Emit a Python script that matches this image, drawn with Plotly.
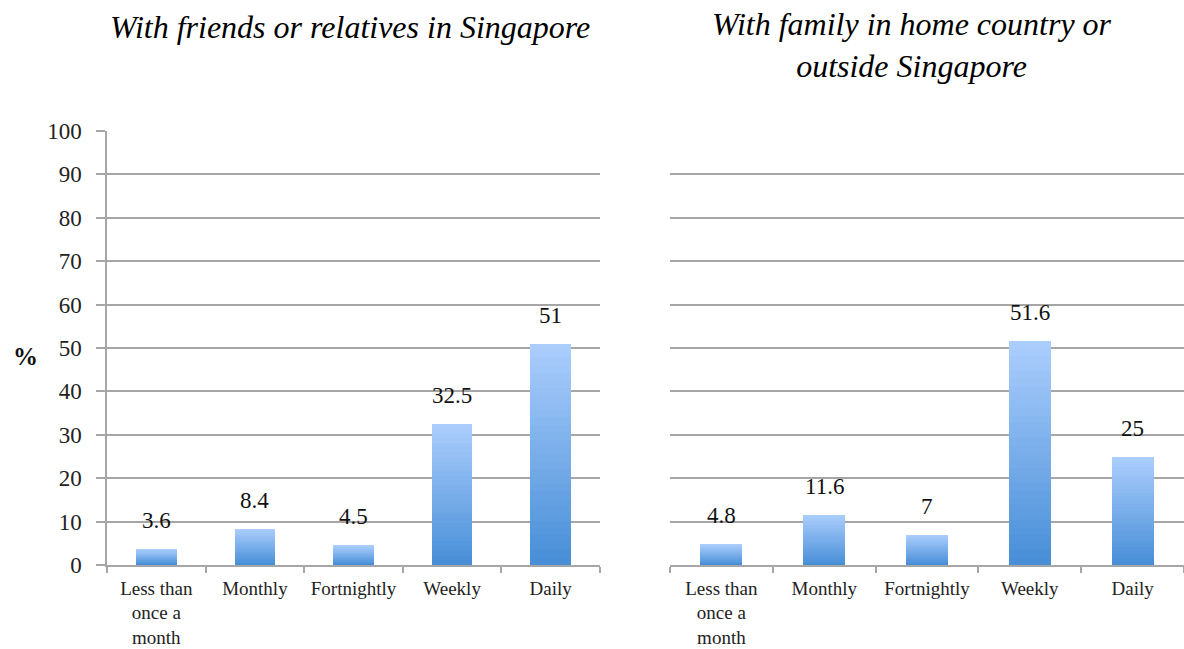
import plotly.graph_objects as go

categories = ["Less than<br>once a<br>month", "Monthly", "Fortnightly", "Weekly", "Daily"]
friends_sg = [3.6, 8.4, 4.5, 32.5, 51]
family_home = [4.8, 11.6, 7, 51.6, 25]
value_labels_left = ["3.6", "8.4", "4.5", "32.5", "51"]
value_labels_right = ["4.8", "11.6", "7", "51.6", "25"]
y_ticks = [0, 10, 20, 30, 40, 50, 60, 70, 80, 90, 100]
title_left = "With friends or relatives in Singapore"
title_right = "With family in home country or<br>outside Singapore"

W, H = 1184, 649
FONT = "Liberation Serif, Times New Roman, serif"
TOP = (170, 205, 252)
BOT = (72, 143, 216)
N = 30

def px_x(p):
    return min(1.0, p / W)

def px_y(p):
    return 1 - p / H

fig = go.Figure()

def add_grad(values, xa, ya):
    for k in range(N):
        frac = 1 - k / N
        t = k / (N - 1)
        c = tuple(int(round(TOP[i] + (BOT[i] - TOP[i]) * t)) for i in range(3))
        fig.add_trace(go.Bar(
            x=categories, y=[v * frac for v in values],
            marker=dict(color="rgb(%d,%d,%d)" % c, line=dict(width=0)),
            width=0.41, xaxis=xa, yaxis=ya, showlegend=False, hoverinfo="skip",
        ))

add_grad(friends_sg, "x", "y")
add_grad(family_home, "x2", "y2")

ydom = [px_y(565), px_y(131)]
grid = "#A6A6A6"
xcommon = dict(
    type="category", showline=True, linecolor=grid, linewidth=1.5,
    ticks="outside", tickson="boundaries", ticklen=6, tickcolor=grid, tickwidth=1.5,
    tickfont=dict(family=FONT, size=19, color="#222222"), showgrid=False,
    tickangle=0, automargin=False, ticklabelstandoff=5,
)
fig.update_layout(
    template="none",
    width=W, height=H, margin=dict(l=0, r=0, t=0, b=0, autoexpand=False),
    paper_bgcolor="white", plot_bgcolor="white", barmode="overlay", bargap=0,
    xaxis=dict(domain=[px_x(107), px_x(600)], anchor="y", **xcommon),
    xaxis2=dict(domain=[px_x(670), px_x(1184)], anchor="y2", **xcommon),
    yaxis=dict(domain=ydom, range=[0, 100], tickvals=y_ticks, showgrid=True,
               gridcolor=grid, gridwidth=1.5, showline=True, linecolor=grid, linewidth=1.5,
               ticks="outside", ticklen=9, tickcolor=grid, tickwidth=1.5,
               ticklabelstandoff=10, automargin=False,
               tickfont=dict(family=FONT, size=23, color="#222222"), zeroline=False,
               anchor="x"),
    yaxis2=dict(domain=ydom, range=[0, 100], tickvals=y_ticks, showgrid=True,
                gridcolor=grid, gridwidth=1.5, showline=False, showticklabels=False,
                ticks="", automargin=False, zeroline=False, anchor="x2"),
)

ann = []
for cat, v, lab in zip(categories, friends_sg, value_labels_left):
    ann.append(dict(x=cat, y=v, xref="x", yref="y", text=lab, showarrow=False,
                    yanchor="bottom", yshift=14,
                    font=dict(family=FONT, size=23, color="#111111")))
for cat, v, lab in zip(categories, family_home, value_labels_right):
    ann.append(dict(x=cat, y=v, xref="x2", yref="y2", text=lab, showarrow=False,
                    yanchor="bottom", yshift=14,
                    font=dict(family=FONT, size=23, color="#111111")))
ann.append(dict(x=px_x(350), y=px_y(27), xref="paper", yref="paper", text="<i>" + title_left + "</i>",
                showarrow=False, xanchor="center", yanchor="middle",
                font=dict(family=FONT, size=32, color="#000000")))
ann.append(dict(x=px_x(912), y=px_y(45), xref="paper", yref="paper", text="<i>" + title_right + "</i>",
                showarrow=False, xanchor="center", yanchor="middle",
                font=dict(family=FONT, size=32, color="#000000")))
ann.append(dict(x=px_x(25), y=px_y(356), xref="paper", yref="paper", text="<b>%</b>",
                showarrow=False, xanchor="center", yanchor="middle",
                font=dict(family=FONT, size=25, color="#111111")))
fig.update_layout(annotations=ann)

fig.write_html(
    "out.html",
    config={"displayModeBar": False},
    post_script="document.body.style.margin='0';document.body.style.overflow='hidden';",
)
